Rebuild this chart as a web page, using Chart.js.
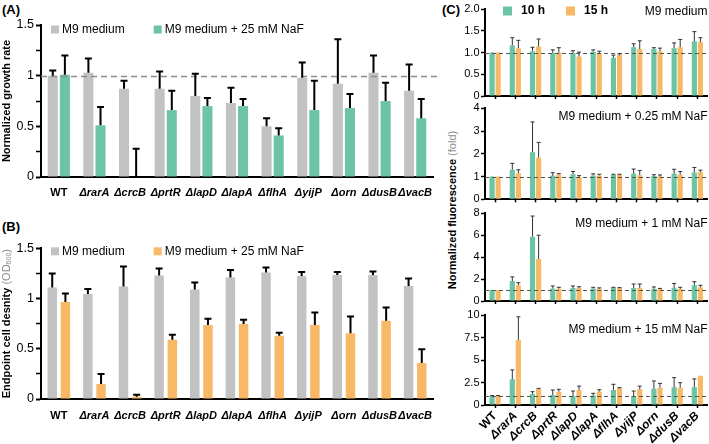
<!DOCTYPE html>
<html>
<head>
<meta charset="utf-8">
<script src="https://cdn.jsdelivr.net/npm/chart.js@4.4.1/dist/chart.umd.min.js"></script>
<style>
html,body{margin:0;padding:0;background:#fff;}
body{width:709px;height:444px;position:relative;overflow:hidden;font-family:'Liberation Sans',Arial,sans-serif;}
canvas{position:absolute;}
.plab{position:absolute;font:bold 13px 'Liberation Sans',Arial,sans-serif;line-height:13px;color:#000;white-space:nowrap;}
#ctitle{position:absolute;left:452px;top:210px;transform:translate(-50%,-50%) rotate(-90deg);white-space:nowrap;font:bold 11px 'Liberation Sans',Arial,sans-serif;line-height:13px;color:#000;}
#ctitle span{font-weight:normal;color:#8a8a8a;}
</style>
</head>
<body>
<div class="plab" style="left:2px;top:3px">(A)</div>
<div class="plab" style="left:2px;top:220px">(B)</div>
<div class="plab" style="left:442px;top:3px">(C)</div>
<div id="ctitle">Normalized fluorescence <span>(fold)</span></div>
<canvas id="cA" width="460" height="205" style="left:0;top:0"></canvas>
<canvas id="cB" width="460" height="239" style="left:0;top:205px"></canvas>
<canvas id="cC1" width="269" height="106" style="left:440px;top:0"></canvas>
<canvas id="cC2" width="269" height="111" style="left:440px;top:98px"></canvas>
<canvas id="cC3" width="269" height="108" style="left:440px;top:203px"></canvas>
<canvas id="cC4" width="269" height="139" style="left:440px;top:305px"></canvas>
<script>
// ---------- categories ----------
const strains = ['WT','ΔrarA','ΔcrcB','ΔprtR','ΔlapD','ΔlapA','ΔflhA','ΔyijP','Δorn','ΔdusB','ΔvacB'];

// ---------- (A) normalized growth rate (mean, mean+SD) ----------
const growthM9     = [1.00,1.03,0.87,0.87,0.80,0.73,0.50,0.98,0.92,1.03,0.85];
const growthM9Up   = [1.05,1.17,0.95,1.04,1.02,0.88,0.58,1.13,1.36,1.20,1.11];
const growthNaF    = [1.01,0.51,0.00,0.66,0.70,0.70,0.41,0.66,0.68,0.75,0.58];
const growthNaFUp  = [1.20,0.69,0.28,0.85,0.78,0.77,0.48,0.95,0.82,0.93,0.77];

// ---------- (B) endpoint cell density ----------
const densM9       = [1.11,1.045,1.12,1.23,1.09,1.21,1.26,1.225,1.235,1.235,1.125];
const densM9Up     = [1.25,1.095,1.32,1.30,1.16,1.285,1.31,1.265,1.265,1.27,1.20];
const densNaF      = [0.966,0.15,0.023,0.59,0.737,0.747,0.63,0.737,0.654,0.78,0.358];
const densNaFUp    = [1.05,0.25,0.043,0.64,0.80,0.79,0.66,0.86,0.82,0.91,0.495];

// ---------- (C) normalized fluorescence ----------
const c1h10   = [1.00,1.16,1.03,0.99,0.99,1.02,0.88,1.12,1.08,1.10,1.26];
const c1h10Up = [1.00,1.34,1.12,1.06,1.04,1.06,0.94,1.20,1.11,1.22,1.48];
const c1h15   = [1.00,1.10,1.14,1.00,0.91,0.97,0.94,1.08,1.03,1.12,1.24];
const c1h15Up = [1.00,1.28,1.31,1.11,1.01,1.03,0.97,1.27,1.10,1.30,1.34];

const c2h10   = [1.00,1.30,2.07,1.03,1.10,1.05,1.08,1.12,1.02,1.12,1.18];
const c2h10Up = [1.00,1.58,3.40,1.17,1.22,1.12,1.10,1.33,1.08,1.32,1.40];
const c2h15   = [1.00,1.15,1.83,1.08,0.97,1.05,1.08,1.06,1.00,1.08,1.20];
const c2h15Up = [1.00,1.30,2.50,1.13,1.04,1.10,1.10,1.27,1.07,1.22,1.28];

const c3h10   = [1.00,1.82,5.87,1.15,1.18,1.15,1.20,1.18,1.12,1.20,1.43];
const c3h10Up = [1.00,2.20,7.75,1.37,1.37,1.25,1.25,1.55,1.28,1.60,1.76];
const c3h15   = [1.00,1.43,3.83,1.12,1.20,1.12,1.20,1.18,1.10,1.10,1.25];
const c3h15Up = [1.00,1.67,6.00,1.25,1.30,1.20,1.22,1.55,1.15,1.25,1.43];

const c4h10   = [1.00,2.85,1.22,1.10,1.00,1.05,1.67,1.00,1.80,1.96,1.96];
const c4h10Up = [1.05,3.90,1.48,1.67,1.55,1.30,2.30,1.55,2.67,3.04,2.90];
const c4h15   = [1.00,7.25,1.78,1.48,1.67,1.50,1.85,1.74,1.93,1.93,3.26];
const c4h15Up = [1.05,9.80,1.85,1.74,2.10,1.70,1.93,2.10,2.40,2.48,3.26];

// ---------- styling ----------
const GRAY='#c3c2c2', GREEN='#6cc4a4', ORANGE='#f8b967';
const FONT="'Liberation Sans', Arial, sans-serif";
Chart.defaults.font.family=FONT;
Chart.defaults.color='#000';
Chart.defaults.animation=false;

const overlay = {
  id:'overlay',
  afterDatasetsDraw(chart, args, o){
    const ctx=chart.ctx, ys=chart.scales.y, ca=chart.chartArea;
    ctx.save();
    if(o.refValue!=null){
      const py=Math.round(ys.getPixelForValue(o.refValue))+0.5;
      ctx.strokeStyle=o.refColor; ctx.lineWidth=o.refWidth; ctx.setLineDash(o.refDash);
      ctx.beginPath(); ctx.moveTo(ca.left,py); ctx.lineTo(ca.right+(o.refExtend||0),py); ctx.stroke();
      ctx.setLineDash([]);
    }
    chart.data.datasets.forEach((ds,di)=>{
      if(!ds.upper) return;
      const meta=chart.getDatasetMeta(di);
      meta.data.forEach((bar,i)=>{
        const hi=ds.upper[i], v=ds.data[i];
        if(hi==null||hi<=v) return;
        const x=bar.x, y0=ys.getPixelForValue(v), y1=ys.getPixelForValue(hi);
        ctx.strokeStyle=o.errColor; ctx.lineWidth=o.errWidth;
        ctx.beginPath(); ctx.moveTo(x,y0); ctx.lineTo(x,y1);
        ctx.moveTo(x-o.cap/2,y1); ctx.lineTo(x+o.cap/2,y1); ctx.stroke();
      });
    });
    if(o.legend){
      const L=o.legend; let cx=ca.left+L.dx; const cy=ca.top+L.dy;
      ctx.textBaseline='middle'; ctx.textAlign='left';
      chart.data.datasets.forEach(ds=>{
        ctx.fillStyle=ds.backgroundColor; ctx.fillRect(cx,cy-L.box/2,L.box,L.box);
        cx+=L.box+L.textGap; ctx.font=L.font; ctx.fillStyle='#000';
        ctx.fillText(ds.label,cx,cy); cx+=ctx.measureText(ds.label).width+L.itemGap;
      });
    }
    if(o.note){
      ctx.font=o.note.font; ctx.fillStyle='#000'; ctx.textAlign='right'; ctx.textBaseline='middle';
      ctx.fillText(o.note.text, ca.right+o.note.dx, ca.top+o.note.dy);
    }
    if(o.yTitle){
      const T=o.yTitle; const cy=(ca.top+ca.bottom)/2+(T.dy||0);
      let total=0; T.parts.forEach(p=>{ctx.font=p.font; total+=ctx.measureText(p.text).width;});
      ctx.translate(T.x,cy); ctx.rotate(-Math.PI/2); ctx.textAlign='left'; ctx.textBaseline='middle';
      let x=-total/2;
      T.parts.forEach(p=>{ctx.font=p.font; ctx.fillStyle=p.color; ctx.fillText(p.text,x,p.off||0); x+=ctx.measureText(p.text).width;});
    }
    ctx.restore();
  }
};

function geneFont(size){
  return c => ({family:FONT, size:size, weight:'bold', style: c.index===0 ? 'normal':'italic'});
}
const isHalf = v => Math.abs(v*2-Math.round(v*2))<1e-6;

function abChart(id, d1, d2, opts){
  return new Chart(document.getElementById(id), {
    type:'bar',
    data:{labels:strains, datasets:[
      {label:d1.label, data:d1.data, upper:d1.upper, backgroundColor:d1.color, borderWidth:0, categoryPercentage:opts.catPct, barPercentage:opts.barPct},
      {label:d2.label, data:d2.data, upper:d2.upper, backgroundColor:d2.color, borderWidth:0, categoryPercentage:opts.catPct, barPercentage:opts.barPct}
    ]},
    options:{
      responsive:false, animation:false, devicePixelRatio:1,
      layout:{padding:{left:0,top:opts.top,right:27,bottom:0}},
      plugins:{legend:{display:false}, tooltip:{enabled:false},
        overlay:Object.assign({refColor:'#8c8c8c', refWidth:1.5, refDash:[6,4], errColor:'#000', errWidth:2, cap:7,
          legend:{dx:10, dy:opts.legendDy, box:8, textGap:3, itemGap:29, font:"12px "+FONT}}, opts.overlay)},
      scales:{
        x:{afterFit:s=>{s.height=opts.xh;},
           border:{display:true,color:'#000',width:2},
           grid:{display:true, drawOnChartArea:false, drawTicks:false},
           ticks:{autoSkip:false, maxRotation:0, minRotation:0, padding:opts.xpad, font:geneFont(11), color:'#000'}},
        y:{min:0, max:1.5, afterFit:s=>{s.width=41;},
           border:{display:true,color:'#000',width:2},
           grid:{drawOnChartArea:false, drawTicks:true, tickLength:5, tickColor:'#000',
                 tickWidth:c=> (c.tick && isHalf(c.tick.value)) ? 2 : 1.5},
           ticks:{stepSize:0.25, autoSkip:false, padding:2, font:{size:12.5}, color:'#000',
                  callback:v=> isHalf(v) ? String(v) : ''},
           title:opts.ytitle}
      }
    },
    plugins:[overlay]
  });
}

abChart('cA',
  {label:'M9 medium', data:growthM9, upper:growthM9Up, color:GRAY},
  {label:'M9 medium + 25 mM NaF', data:growthNaF, upper:growthNaFUp, color:GREEN},
  {top:25, xh:28, xpad:9, catPct:0.68, barPct:0.83, legendDy:4.5,
   ytitle:{display:true, text:'Normalized growth rate', font:{size:11, weight:'bold'}, padding:{top:0,bottom:0}, color:'#000'},
   overlay:{refValue:1, refExtend:4}});

abChart('cB',
  {label:'M9 medium', data:densM9, upper:densM9Up, color:GRAY},
  {label:'M9 medium + 25 mM NaF', data:densNaF, upper:densNaFUp, color:ORANGE},
  {top:43.3, xh:45, xpad:10, catPct:0.74, barPct:0.72, legendDy:3,
   ytitle:{display:false},
   overlay:{refValue:null, yTitle:{x:6.5, parts:[
     {text:'Endpoint cell desnity ', font:'bold 11px '+FONT, color:'#000'},
     {text:'(OD', font:'11px '+FONT, color:'#8a8a8a'},
     {text:'600', font:'7px '+FONT, color:'#8a8a8a', off:2.5},
     {text:')', font:'11px '+FONT, color:'#8a8a8a'}]}}});

function cChart(id, h10, h10Up, h15, h15Up, o){
  return new Chart(document.getElementById(id), {
    type:'bar',
    data:{labels:strains, datasets:[
      {label:'10 h', data:h10, upper:h10Up, backgroundColor:GREEN, borderWidth:0, categoryPercentage:0.6, barPercentage:0.85},
      {label:'15 h', data:h15, upper:h15Up, backgroundColor:ORANGE, borderWidth:0, categoryPercentage:0.6, barPercentage:0.85}
    ]},
    options:{
      responsive:false, animation:false, devicePixelRatio:1,
      layout:{padding:{left:0, top:o.top, right:1.5, bottom:0}},
      plugins:{legend:{display:false}, tooltip:{enabled:false},
        overlay:{refValue:1, refColor:'#555', refWidth:1, refDash:[4,3], errColor:'#333', errWidth:1, cap:4,
          legend:o.legend, note:{text:o.note, font:'12px '+FONT, dx:0, dy:o.noteDy}}},
      scales:{
        x:{afterFit:s=>{s.height=o.xh;},
           border:{display:true,color:'#000',width:2},
           grid:{display:true, drawOnChartArea:false, drawTicks:true, tickLength:3, tickWidth:1.5, tickColor:'#000', offset:false},
           ticks:{autoSkip:false, minRotation:o.labels?45:0, maxRotation:o.labels?45:0, padding:1, font:geneFont(12), color:'#000',
                  callback:o.labels ? (v,i)=>strains[i] : ()=>''}},
        y:{min:0, max:o.max, afterFit:s=>{s.width=45;},
           border:{display:true,color:'#000',width:2},
           grid:{drawOnChartArea:false, drawTicks:true, tickLength:4, tickWidth:1.5, tickColor:'#000'},
           ticks:{stepSize:o.step, autoSkip:false, padding:1.5, font:{size:11}, color:'#000'}}
      }
    },
    plugins:[overlay]
  });
}

cChart('cC1', c1h10, c1h10Up, c1h15, c1h15Up,
  {top:9, xh:10, max:2, step:0.5, note:'M9 medium', noteDy:2.5,
   legend:{dx:18, dy:2, box:9, textGap:9, itemGap:21, font:'bold 12px '+FONT}});
cChart('cC2', c2h10, c2h10Up, c2h15, c2h15Up,
  {top:10.3, xh:9.7, max:4, step:1, note:'M9 medium + 0.25 mM NaF', noteDy:8.7});
cChart('cC3', c3h10, c3h10Up, c3h15, c3h15Up,
  {top:10.3, xh:10, max:8, step:2, note:'M9 medium + 1 mM NaF', noteDy:10.7});
cChart('cC4', c4h10, c4h10Up, c4h15, c4h15Up,
  {top:10, xh:39, max:10, step:2.5, note:'M9 medium + 15 mM NaF', noteDy:15, labels:true});
</script>
</body>
</html>
